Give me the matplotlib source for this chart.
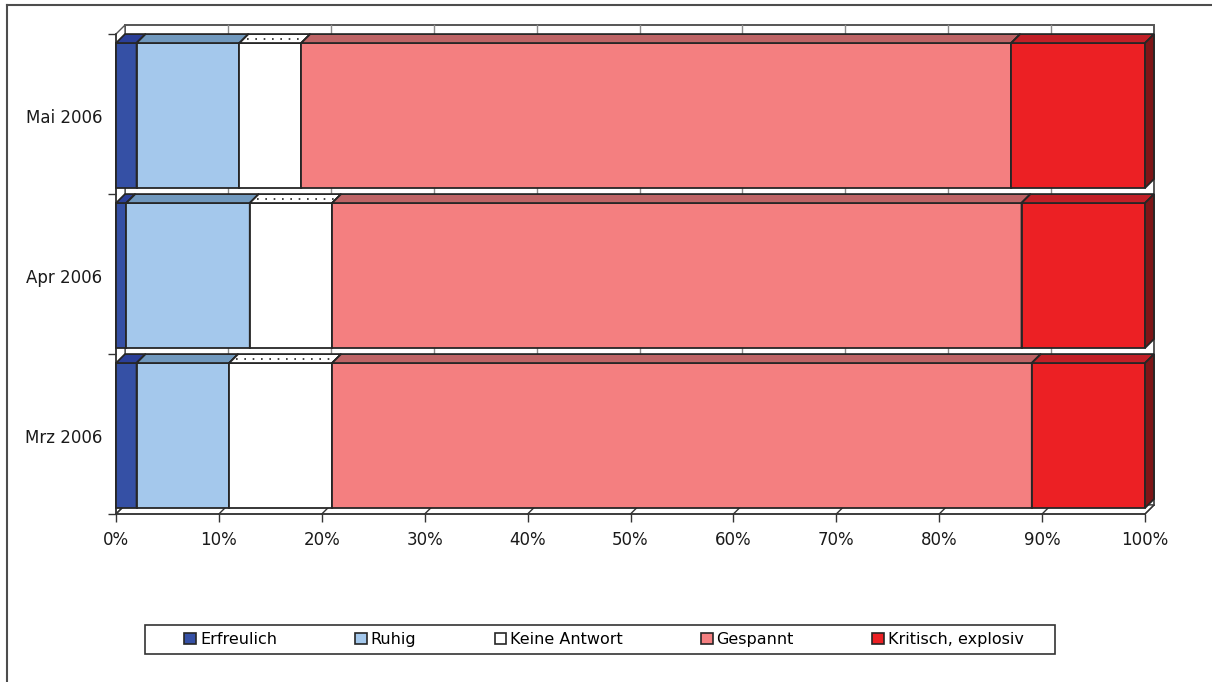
import matplotlib.pyplot as plt
from matplotlib.patches import Polygon, Rectangle, Patch
from matplotlib.lines import Line2D

MONTHS = ["Mrz 2006", "Apr 2006", "Mai 2006"]
CATEGORIES = ["Erfreulich", "Ruhig", "Keine Antwort", "Gespannt", "Kritisch, explosiv"]
ERFREULICH = [2, 1, 2]
RUHIG = [9, 12, 10]
KEINE_ANTWORT = [10, 8, 6]
GESPANNT = [68, 67, 69]
KRITISCH = [11, 12, 13]

# front, top face, right face
COLORS = [
    ("#3550a5", "#2b3f98", "#1f2d6e"),
    ("#a4c8ec", "#7199be", "#4f6f8e"),
    ("#ffffff", "#ffffff", "#bbbbbb"),
    ("#f47f80", "#be6466", "#8e4748"),
    ("#ec2024", "#c21f27", "#7e1517"),
]
EDGE = "#262626"
DX = 0.875   # depth offset in % units
DY = 0.056   # depth offset in category units
BAR_Y0 = 0.0375
BAR_H = 0.906

W, H = 1212, 682
plt.rcParams["font.family"] = ["DejaVu Sans"]
plt.rcParams["font.size"] = 12

fig = plt.figure(figsize=(W / 100, H / 100), dpi=100)
ax = fig.add_axes([116 / W, (H - 514) / H, 1029 / W, 480 / H])
ax.set_xlim(0, 100)
ax.set_ylim(0, 3)


def poly(pts, fc, z, ec=EDGE, lw=1.3):
    ax.add_patch(Polygon(pts, closed=True, fc=fc, ec=ec, lw=lw,
                         zorder=z, clip_on=False, joinstyle="miter"))


# back wall, left wall and floor
wall = "#555555"
poly([(DX, DY), (100 + DX, DY), (100 + DX, 3 + DY), (DX, 3 + DY)], "white", 0.5, ec=wall, lw=1.4)
poly([(0, 0), (DX, DY), (DX, 3 + DY), (0, 3)], "white", 0.6, ec=wall, lw=1.0)
poly([(0, 0), (100, 0), (100 + DX, DY), (DX, DY)], "white", 0.6, ec=wall, lw=1.0)
for x in range(10, 100, 10):
    ax.plot([x + DX, x + DX], [DY, 3 + DY], color="#8c8c8c", lw=1.0, zorder=0.7, clip_on=False)
for x in range(0, 101, 10):
    ax.plot([x, x + DX], [0, DY], color="#333333", lw=1.0, zorder=0.7, clip_on=False)


def segment(left, width, y0, front, top, side, z, dotted=False):
    y1 = y0 + BAR_H
    right = left + width
    poly([(left, y0), (right, y0), (right, y1), (left, y1)], front, z)
    poly([(left, y1), (left + DX, y1 + DY), (right + DX, y1 + DY), (right, y1)], top, z)
    poly([(right, y0), (right + DX, y0 + DY), (right + DX, y1 + DY), (right, y1)], side, z)
    if dotted:
        ax.plot([left + DX * 0.8, right + DX * 0.2], [y1 + DY * 0.5] * 2, color="#222222",
                lw=1.2, ls=(0, (1, 4)), zorder=z + 0.01, clip_on=False)


series = [ERFREULICH, RUHIG, KEINE_ANTWORT, GESPANNT, KRITISCH]
for i in range(len(MONTHS)):
    left = 0
    for k, values in enumerate(series):
        front, top, side = COLORS[k]
        segment(left, values[i], i + BAR_Y0, front, top, side, 2 + k * 0.1, dotted=(k == 2))
        left += values[i]

for side in ["top", "right"]:
    ax.spines[side].set_visible(False)
for side in ["left", "bottom"]:
    ax.spines[side].set_color("#333333")
    ax.spines[side].set_linewidth(1.2)
    ax.spines[side].set_zorder(1)

ax.set_xticks(range(0, 101, 10), [f"{v}%" for v in range(0, 101, 10)])
ax.tick_params(axis="x", length=6, width=1.0, color="#333333", pad=6, labelcolor="#1a1a1a")
ax.set_yticks([i + BAR_Y0 + BAR_H / 2 for i in range(3)], MONTHS)
ax.set_yticks(range(4), minor=True)
ax.tick_params(axis="y", which="major", length=0, pad=10, labelcolor="#1a1a1a")
ax.tick_params(axis="y", which="minor", length=6, width=1.0, color="#333333")

# outer chart frame (left and top edges)
fig.add_artist(Line2D([7 / W, 7 / W], [0, 1 - 5 / H], color="#4d4d4d", lw=1.5))
fig.add_artist(Line2D([7 / W, 1], [1 - 5 / H, 1 - 5 / H], color="#4d4d4d", lw=1.5))

# legend
fig.add_artist(Rectangle((145 / W, 1 - 654 / H), 910 / W, 29 / H, fc="white",
                         ec="#333333", lw=1.2, transform=fig.transFigure))
handles = [Patch(fc=c[0], ec=EDGE, lw=1.2) for c in COLORS]
fig.legend(handles, CATEGORIES, loc="center", bbox_to_anchor=(604 / W, 1 - 639.5 / H),
           ncol=5, frameon=False, handlelength=0.72, handleheight=0.72,
           handletextpad=0.25, columnspacing=4.9, fontsize=11.5)

fig.savefig("out.png", dpi=100)
